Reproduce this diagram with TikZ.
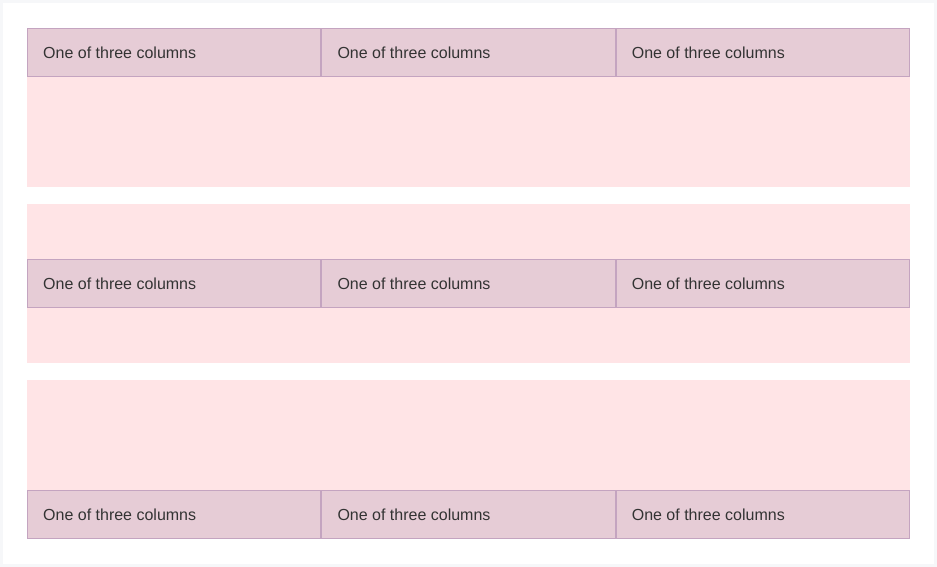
\documentclass[tikz,border=0pt]{standalone}
\usepackage{fontspec}
\setmainfont{Liberation Sans}
\usetikzlibrary{positioning}
\definecolor{rowpink}{RGB}{255,228,230}
\definecolor{cellfill}{RGB}{230,204,214}
\definecolor{celldraw}{RGB}{196,164,192}
\definecolor{celltext}{RGB}{51,51,51}
\definecolor{pageedge}{RGB}{246,247,249}
\tikzset{
  rowbox/.style={fill=rowpink, draw=none},
  colcell/.style={fill=cellfill, draw=celldraw, line width=1pt,
    minimum width=293.3pt, minimum height=48pt, inner sep=0pt, outer sep=0pt},
  collabel/.style={text=celltext, font=\fontsize{16}{19}\selectfont, anchor=west, inner sep=0pt}
}
\begin{document}
\begin{tikzpicture}[x=1pt,y=-1pt]
\fill[pageedge] (0,0) rectangle (937,567);
\fill[white] (3,3) rectangle (934,564);
% the three rows
\fill[rowbox] (27,28) rectangle (910,187);
\fill[rowbox] (27,204) rectangle (910,363);
\fill[rowbox] (27,380) rectangle (910,539);
% columns: top, middle, bottom alignment
\foreach \r/\y in {a/52.5, b/283.5, c/514.5}{
  \foreach \c [evaluate=\c as \cx using 27+147.15+294.3*(\c-1)] in {1,2,3}{
    \node[colcell] (\r\c) at (\cx,\y) {};
    \node[collabel] (\r\c t) at ([xshift=15.5pt]\r\c.west) {One of three columns};
  }
}
\end{tikzpicture}
\end{document}
